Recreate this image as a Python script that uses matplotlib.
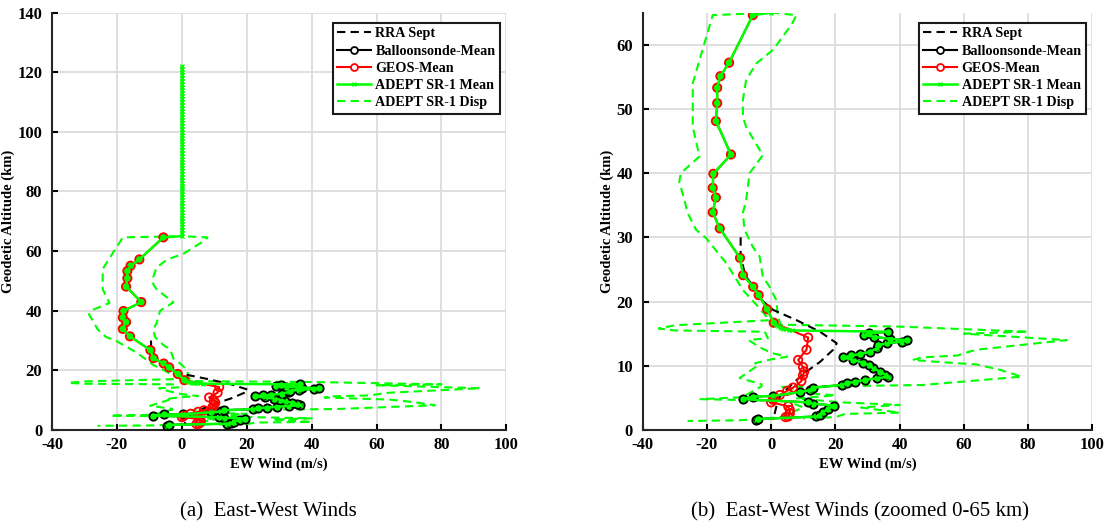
import matplotlib.pyplot as plt
from matplotlib.lines import Line2D

plt.rcParams['font.family'] = ['Liberation Serif', 'DejaVu Serif']
plt.rcParams['axes.unicode_minus'] = False

GREEN = '#00ff00'
RED = '#ff0000'

# ---------- data (EW wind in m/s, altitude in km) ----------
geos_alt = [64.6, 57.2, 55.1, 53.3, 50.9, 48.1, 42.9, 39.9, 37.7, 36.2, 33.9, 31.4,
            26.8, 24.1, 22.3, 21.0, 18.8, 16.7, 14.4, 12.5, 10.9, 9.8, 9.1, 8.5,
            7.6, 6.6, 6.1, 5.45, 4.7, 4.3, 3.7, 3.1, 2.6, 2.1, 2.0]
geos_wind = [-5.7, -13.1, -15.8, -16.8, -16.8, -17.2, -12.5, -18.0, -18.2, -17.2, -18.2, -16.0,
             -9.7, -8.75, -5.6, -3.9, -1.25, 0.8, 11.5, 11.0, 8.4, 9.9, 10.3, 9.9,
             9.4, 6.8, 5.0, 2.7, 0.6, 0.0, 5.3, 5.8, 5.8, 5.3, 4.5]

balloon_alt = [1.5, 1.7, 2.1, 2.4, 2.8, 3.3, 3.8, 4.1, 4.3, 4.8, 5.2, 5.3, 5.9, 6.2, 6.6,
               7.0, 7.3, 7.5, 7.8, 8.05, 8.3, 8.6, 9.1, 9.6, 10.1, 10.5, 10.9, 11.3, 11.6,
               11.8, 12.2, 12.7, 13.2, 13.5, 13.75, 14.0, 14.2, 14.5, 14.8, 15.05, 15.3]
balloon_wind = [-4.6, -4.0, 14.0, 15.2, 16.2, 17.8, 19.5, 13.1, 11.5, -8.9, -5.5, 0.5, 9.0, 12.0, 13.1,
                21.9, 23.5, 26.1, 29.2, 32.9, 36.5, 35.5, 33.9, 31.8, 30.3, 28.5, 25.5, 22.4, 25.0,
                27.5, 30.8, 32.9, 33.4, 36.0, 40.7, 42.2, 37.0, 32.0, 29.0, 30.5, 36.5]

rra_alt = [30.0, 27.0, 24.0, 22.0, 20.0, 18.7, 17.1, 15.3, 13.5, 12.5, 10.6, 9.1, 7.3, 5.2, 3.6, 1.6]
rra_wind = [-9.5, -9.5, -8.0, -5.0, -2.5, 0.6, 7.9, 15.2, 20.4, 19.3, 15.2, 11.0, 6.8, 2.7, 1.6, 0.6]

# ADEPT SR-1 mean: zero wind above 65 km, GEOS above the tropopause, balloonsonde below
adept_top_alt = [122, 121, 120, 119, 118, 117, 116, 115, 114, 113, 112, 111, 110, 109, 108,
                 107, 106, 105, 104, 103, 102, 101, 100, 99, 98, 97, 96, 95, 94, 93, 92, 91,
                 90, 89, 88, 87, 86, 85, 84, 83, 82, 81, 80, 79, 78, 77, 76, 75, 74, 73, 72,
                 71, 70, 69, 68, 67, 66, 65]
adept_top_wind = [0.0] * len(adept_top_alt)
adept_trans_alt = [16.4, 16.2, 16.0, 15.9, 15.8, 15.7, 15.6, 15.5]
adept_trans_wind = [1.4, 2.0, 2.6, 3.2, 3.8, 4.6, 5.5, 6.5]

adept_alt = adept_top_alt + geos_alt[:18] + adept_trans_alt + balloon_alt[::-1]
adept_wind = adept_top_wind + geos_wind[:18] + adept_trans_wind + balloon_wind[::-1]

disp1_alt = [122, 65.0, 64.6, 57.6, 54.0, 47.2, 42.6, 40.0, 38.7, 35.8, 33.8, 31.2, 29.9,
             26.0, 21.8, 19.5, 17.1, 16.3, 15.8, 15.5, 15.3, 14.3, 14.0, 13.0, 12.0, 11.4,
             11.0, 10.4, 10.1, 8.1, 7.8, 7.1, 6.8, 5.1, 4.8, 4.5, 3.5, 2.0, 1.5, 1.4]
disp1_wind = [0.0, 0.0, -18.2, -22.3, -24.4, -24.4, -22.3, -28.1, -28.6, -27.0, -26.0, -23.4, -20.3,
              -14.0, -8.8, -4.6, -0.5, -30.0, -35.0, -30.0, -2.0, -1.0, -7.0, -4.0, 0.0, 5.0,
              0.0, -5.0, -4.0, -9.8, -7.8, -3.0, -3.0, -9.0, -22.0, 5.0, 10.0, 3.0, -10.0, -26.0]

disp2_alt = [122, 65.0, 64.6, 63.1, 59.2, 57.1, 54.5, 51.4, 48.8, 47.2, 42.8, 40.0, 35.8,
             33.8, 31.2, 28.5, 27.0, 23.9, 22.3, 20.2, 17.6, 16.4, 16.1, 15.3, 15.0, 14.0,
             12.5, 12.1, 11.6, 11.3, 10.9, 10.6, 10.2, 9.4, 8.3, 7.0, 6.7, 6.2, 5.6, 5.4,
             4.9, 4.3, 3.9, 3.5, 2.7, 2.5, 2.0, 1.8]
disp2_wind = [0.0, 0.0, 7.9, 6.3, 0.6, -4.6, -7.8, -8.8, -8.8, -7.8, -2.6, -6.7, -7.8,
              -8.8, -8.3, -5.7, -3.6, -2.6, -0.5, 1.6, 2.1, 3.0, 40.0, 80.0, 60.0, 92.0,
              64.0, 61.0, 58.0, 47.0, 44.0, 52.0, 64.0, 71.0, 78.0, 47.0, 3.0, 10.0, 14.0, 20.0,
              8.0, 22.0, 40.0, 28.0, 40.0, 23.0, 20.0, 10.0]

x_ticks = [-40, -20, 0, 20, 40, 60, 80, 100]
y_ticks_full = [0, 20, 40, 60, 80, 100, 120, 140]
y_ticks_zoom = [0, 10, 20, 30, 40, 50, 60]

geos_face = [GREEN if a >= 16.5 else 'none' for a in geos_alt]

# ---------- figure ----------
fig = plt.figure(figsize=(11.08, 5.25), dpi=100)
ax1 = fig.add_axes([0.047, 0.181, 0.410, 0.795])
ax2 = fig.add_axes([0.580, 0.181, 0.406, 0.795])


def draw(ax, ylim, yticks):
    dash = (4, 2.5)
    ax.plot(disp1_wind, disp1_alt, color=GREEN, lw=1.5, dashes=dash, zorder=2)
    ax.plot(disp2_wind, disp2_alt, color=GREEN, lw=1.5, dashes=dash, zorder=2)
    ax.plot(rra_wind, rra_alt, color='black', lw=1.5, dashes=dash, zorder=3)
    ax.plot(balloon_wind, balloon_alt, '-o', color='black', lw=1.5, ms=6,
            mfc=GREEN, mec='black', mew=1.3, zorder=4)
    ax.plot(geos_wind, geos_alt, '-', color=RED, lw=1.5, zorder=4)
    ax.scatter(geos_wind, geos_alt, s=36, facecolors=geos_face, edgecolors=RED,
               linewidths=1.3, zorder=5)
    ax.plot(adept_wind, adept_alt, '-x', color=GREEN, lw=1.8, ms=3, mew=1, zorder=6)

    ax.set_xlim(-40, 100)
    ax.set_ylim(*ylim)
    ax.set_xticks(x_ticks)
    ax.set_yticks(yticks)
    ax.grid(True, color='#dcdcdc', lw=1.3)
    ax.set_axisbelow(True)
    for s in ['top', 'right']:
        ax.spines[s].set_visible(False)
    for s in ['left', 'bottom']:
        ax.spines[s].set_linewidth(1.5)
        ax.spines[s].set_color('#262626')
    ax.tick_params(direction='in', length=4, width=1.5, labelsize=12)
    ax.tick_params(axis='x', pad=5)
    ax.tick_params(axis='y', pad=7)
    for lab in ax.get_xticklabels() + ax.get_yticklabels():
        lab.set_fontweight('bold')
    ax.set_xlabel('EW Wind (m/s)', fontsize=10.5, fontweight='bold', labelpad=3.5)
    ax.set_ylabel('Geodetic Altitude (km)', fontsize=10.5, fontweight='bold', labelpad=1.5)

    handles = [
        Line2D([], [], color='black', lw=1.5, dashes=dash),
        Line2D([], [], color='black', lw=1.5, marker='o', ms=5, mfc='white', mew=1.3),
        Line2D([], [], color=RED, lw=1.5, marker='o', ms=5, mfc='white', mew=1.3),
        Line2D([], [], color=GREEN, lw=1.8, marker='x', ms=3),
        Line2D([], [], color=GREEN, lw=1.5, dashes=dash),
    ]
    labels = ['RRA Sept', 'Balloonsonde-Mean', 'GEOS-Mean', 'ADEPT SR-1 Mean', 'ADEPT SR-1 Disp']
    leg = ax.legend(handles, labels, loc='upper right', bbox_to_anchor=(0.995, 0.985),
                    prop={'weight': 'bold', 'size': 10.2}, fancybox=False, framealpha=1,
                    handlelength=2.4, handletextpad=0.3, borderpad=0.3, labelspacing=0.3,
                    borderaxespad=0.3)
    leg.get_frame().set_edgecolor('#1a1a1a')
    leg.get_frame().set_linewidth(1.5)


draw(ax1, (0, 140), y_ticks_full)
draw(ax2, (0, 65), y_ticks_zoom)

fig.text(0.242, 0.006, '(a)  East-West Winds', ha='center', va='bottom', fontsize=15)
fig.text(0.776, 0.006, '(b)  East-West Winds (zoomed 0-65 km)', ha='center', va='bottom', fontsize=15)

fig.savefig('out.png', dpi=100)
